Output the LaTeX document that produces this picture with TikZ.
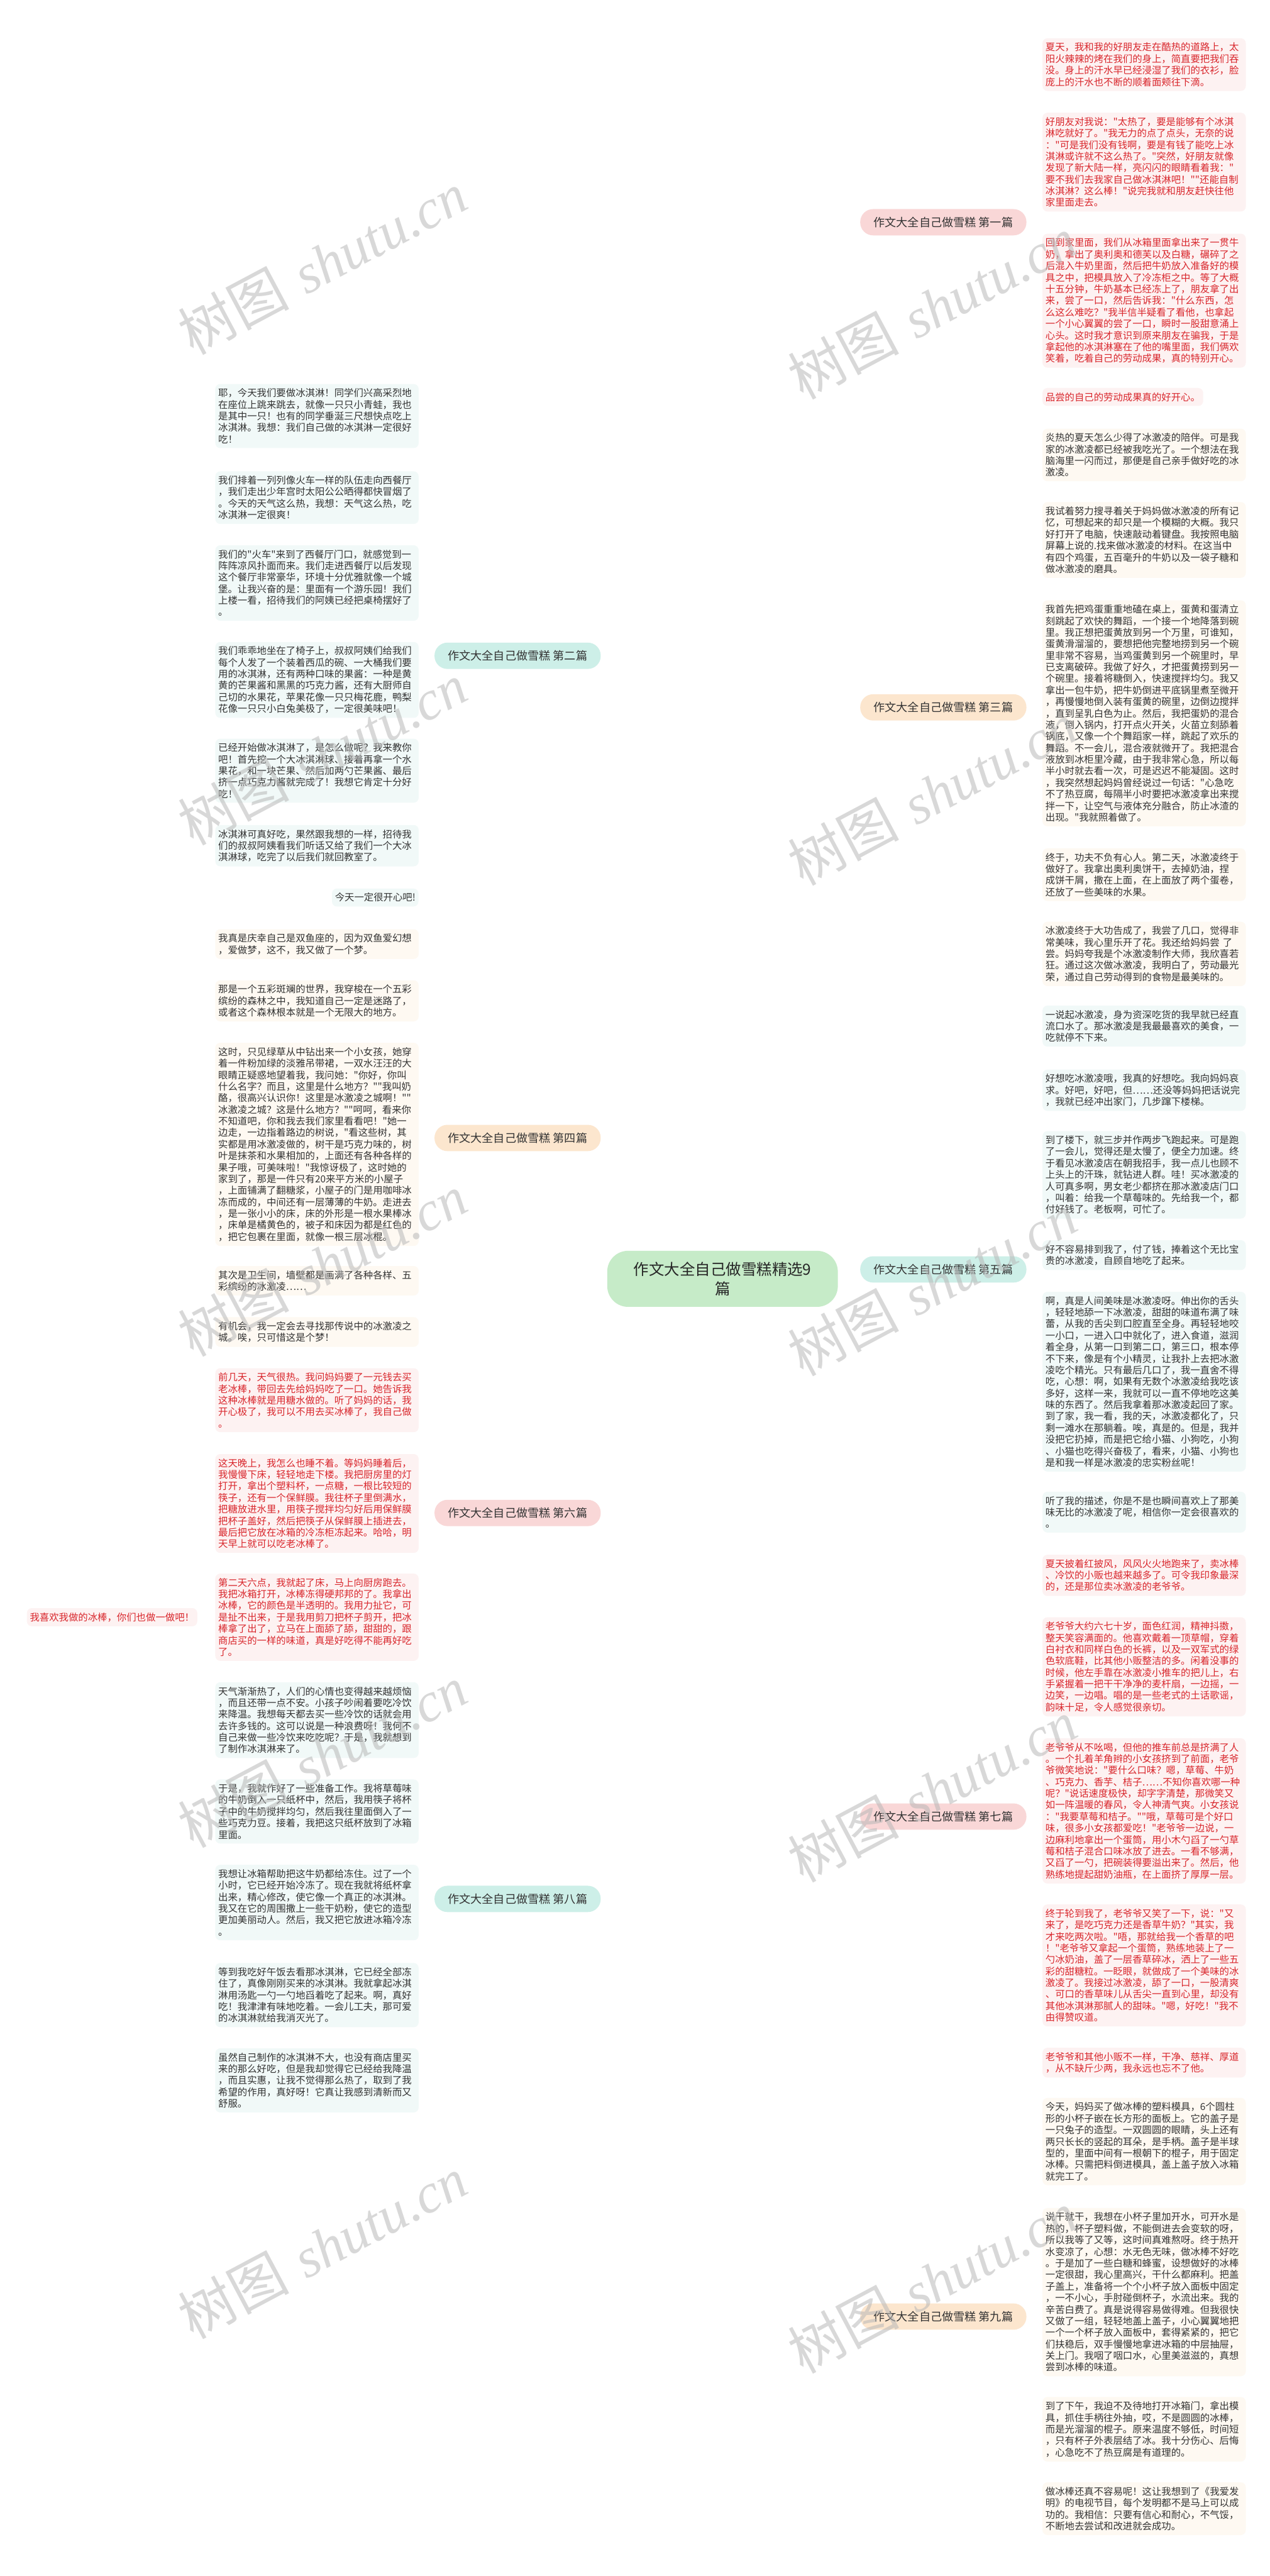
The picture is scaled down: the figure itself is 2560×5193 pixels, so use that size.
\documentclass[tikz,border=0pt]{standalone}
\usepackage{fontspec}
\usetikzlibrary{calc}
\newfontfamily\cjk{Noto Sans CJK SC}
\newfontfamily\wmlat{Liberation Serif}
\newcommand{\myleaffont}{\fontsize{19.5}{23.3}\selectfont\cjk}
\pgfdeclarelayer{bg}
\pgfsetlayers{bg,main}
\definecolor{redtxt}{HTML}{D9262C}
\definecolor{darktxt}{HTML}{333333}
\definecolor{pinkfill}{HTML}{FDF2F2}
\definecolor{creamfill}{HTML}{FEF9F2}
\definecolor{tealfill}{HTML}{F1F9F8}
\definecolor{pinkpill}{HTML}{F9D7D7}
\definecolor{orangepill}{HTML}{FCE6CE}
\definecolor{tealpill}{HTML}{CDEFE8}
\definecolor{centerfill}{HTML}{C6EBC8}
\definecolor{pinkline}{HTML}{F2C3C3}
\definecolor{orangeline}{HTML}{F8D8B4}
\definecolor{tealline}{HTML}{B2E4DA}
\definecolor{wmgray}{HTML}{B8B8B8}
\begin{document}
\begin{tikzpicture}[x=1pt,y=-1pt,
  leafbase/.style={rounded corners=10pt, inner xsep=6pt, inner ysep=9pt, align=left, font=\myleaffont, anchor=north west},
  leaf/.style={leafbase, text width=398pt},
  pinkc/.style={fill=pinkfill, text=redtxt},
  creamc/.style={fill=creamfill, text=darktxt},
  tealc/.style={fill=tealfill, text=darktxt},
  pill/.style={rounded corners=26pt, minimum height=53pt, inner xsep=27pt, inner ysep=0pt, font=\fontsize{23}{27}\selectfont\cjk, text=darktxt},
  hub/.style={rounded corners=42pt, minimum width=465pt, minimum height=113pt, fill=centerfill, align=center, font=\fontsize{31}{40}\selectfont\cjk, text=black!85},
  br/.style={line width=3.5pt},
  lf/.style={line width=3pt},
  wmark/.style={text=wmgray, opacity=0.55, rotate=28, font=\fontsize{112}{120}\selectfont}
]
\useasboundingbox (0,0) rectangle (2560,5193);
\fill[white] (0,0) rectangle (2560,5193);

% center
\node[hub] (c) at (1457,2578) {作文大全自己做雪糕精选9\\篇};

% branch pills
\node[pill, fill=pinkpill, anchor=east] (p1) at (2070,448) {作文大全自己做雪糕 第一篇};
\node[pill, fill=orangepill, anchor=east] (p3) at (2070,1426) {作文大全自己做雪糕 第三篇};
\node[pill, fill=tealpill, anchor=east] (p5) at (2070,2559) {作文大全自己做雪糕 第五篇};
\node[pill, fill=pinkpill, anchor=east] (p7) at (2070,3662) {作文大全自己做雪糕 第七篇};
\node[pill, fill=orangepill, anchor=east] (p9) at (2070,4670) {作文大全自己做雪糕 第九篇};
\node[pill, fill=tealpill, anchor=west] (p2) at (876,1322) {作文大全自己做雪糕 第二篇};
\node[pill, fill=orangepill, anchor=west] (p4) at (876,2294) {作文大全自己做雪糕 第四篇};
\node[pill, fill=pinkpill, anchor=west] (p6) at (876,3050) {作文大全自己做雪糕 第六篇};
\node[pill, fill=tealpill, anchor=west] (p8) at (876,3828) {作文大全自己做雪糕 第八篇};

% ---------- right: group 1 ----------
\node[leaf,pinkc] (b1) at (2102,77) {夏天，我和我的好朋友走在酷热的道路上，太\\阳火辣辣的烤在我们的身上，简直要把我们吞\\没。身上的汗水早已经浸湿了我们的衣衫，脸\\庞上的汗水也不断的顺着面颊往下滴。};
\node[leaf,pinkc] (b2) at (2102,227) {好朋友对我说："太热了，要是能够有个冰淇\\淋吃就好了。"我无力的点了点头，无奈的说\\："可是我们没有钱啊，要是有钱了能吃上冰\\淇淋或许就不这么热了。"突然，好朋友就像\\发现了新大陆一样，亮闪闪的眼睛看着我："\\要不我们去我家自己做冰淇淋吧！""还能自制\\冰淇淋？这么棒！"说完我就和朋友赶快往他\\家里面走去。};
\node[leaf,pinkc] (b3) at (2102,471) {回到家里面，我们从冰箱里面拿出来了一贯牛\\奶，拿出了奥利奥和德芙以及白糖，碾碎了之\\后混入牛奶里面，然后把牛奶放入准备好的模\\具之中，把模具放入了冷冻柜之中。等了大概\\十五分钟，牛奶基本已经冻上了，朋友拿了出\\来，尝了一口，然后告诉我："什么东西，怎\\么这么难吃？"我半信半疑看了看他，也拿起\\一个小心翼翼的尝了一口，瞬时一股甜意涌上\\心头。这时我才意识到原来朋友在骗我，于是\\拿起他的冰淇淋塞在了他的嘴里面，我们俩欢\\笑着，吃着自己的劳动成果，真的特别开心。};
\node[leafbase,pinkc] (b4) at (2102,782) {品尝的自己的劳动成果真的好开心。};

% ---------- right: group 3 ----------
\node[leaf,creamc] (b5) at (2102,864) {炎热的夏天怎么少得了冰激凌的陪伴。可是我\\家的冰激凌都已经被我吃光了。一个想法在我\\脑海里一闪而过，那便是自己亲手做好吃的冰\\激凌。};
\node[leaf,creamc] (b6) at (2102,1012) {我试着努力搜寻着关于妈妈做冰激凌的所有记\\忆，可想起来的却只是一个模糊的大概。我只\\好打开了电脑，快速敲动着键盘。我按照电脑\\屏幕上说的.找来做冰激凌的材料。在这当中\\有四个鸡蛋，五百毫升的牛奶以及一袋子糖和\\做冰激凌的磨具。};
\node[leaf,creamc] (b7) at (2102,1210) {我首先把鸡蛋重重地磕在桌上，蛋黄和蛋清立\\刻跳起了欢快的舞蹈，一个接一个地降落到碗\\里。我正想把蛋黄放到另一个万里，可谁知，\\蛋黄滑溜溜的，要想把他完整地捞到另一个碗\\里非常不容易，当鸡蛋黄到另一个碗里时，早\\已支离破碎。我做了好久，才把蛋黄捞到另一\\个碗里。接着将糖倒入，快速搅拌均匀。我又\\拿出一包牛奶，把牛奶倒进平底锅里煮至微开\\，再慢慢地倒入装有蛋黄的碗里，边倒边搅拌\\，直到呈乳白色为止。然后，我把蛋奶的混合\\液，倒入锅内，打开点火开关，火苗立刻舔着\\锅底，又像一个个舞蹈家一样，跳起了欢乐的\\舞蹈。不一会儿，混合液就微开了。我把混合\\液放到冰柜里冷藏，由于我非常心急，所以每\\半小时就去看一次，可是迟迟不能凝固。这时\\，我突然想起妈妈曾经说过一句话："心急吃\\不了热豆腐，每隔半小时要把冰激凌拿出来搅\\拌一下，让空气与液体充分融合，防止冰渣的\\出现。"我就照着做了。};
\node[leaf,creamc] (b8) at (2102,1710) {终于，功夫不负有心人。第二天，冰激凌终于\\做好了。我拿出奥利奥饼干，去掉奶油，捏\\成饼干屑，撒在上面，在上面放了两个蛋卷，\\还放了一些美味的水果。};
\node[leaf,creamc] (b9) at (2102,1858) {冰激凌终于大功告成了，我尝了几口，觉得非\\常美味，我心里乐开了花。我还给妈妈尝 了\\尝。妈妈夸我是个冰激凌制作大师，我欣喜若\\狂。通过这次做冰激凌，我明白了，劳动最光\\荣，通过自己劳动得到的食物是最美味的。};

% ---------- right: group 5 ----------
\node[leaf,tealc] (b10) at (2102,2027) {一说起冰激凌，身为资深吃货的我早就已经直\\流口水了。那冰激凌是我最最喜欢的美食，一\\吃就停不下来。};
\node[leaf,tealc] (b11) at (2102,2156) {好想吃冰激凌哦，我真的好想吃。我向妈妈哀\\求。好吧，好吧，但……还没等妈妈把话说完\\，我就已经冲出家门，几步蹿下楼梯。};
\node[leaf,tealc] (b12) at (2102,2280) {到了楼下，就三步并作两步飞跑起来。可是跑\\了一会儿，觉得还是太慢了，便全力加速。终\\于看见冰激凌店在朝我招手，我一点儿也顾不\\上头上的汗珠，就钻进人群。哇！买冰激凌的\\人可真多啊，男女老少都挤在那冰激凌店门口\\，叫着：给我一个草莓味的。先给我一个，都\\付好钱了。老板啊，可忙了。};
\node[leaf,tealc] (b13) at (2102,2500) {好不容易排到我了，付了钱，捧着这个无比宝\\贵的冰激凌，自顾自地吃了起来。};
\node[leaf,tealc] (b14) at (2102,2604) {啊，真是人间美味是冰激凌呀。伸出你的舌头\\，轻轻地舔一下冰激凌，甜甜的味道布满了味\\蕾，从我的舌尖到口腔直至全身。再轻轻地咬\\一小口，一进入口中就化了，进入食道，滋润\\着全身，从第一口到第二口，第三口，根本停\\不下来，像是有个小精灵，让我扑上去把冰激\\凌吃个精光。只有最后几口了，我一直舍不得\\吃，心想：啊，如果有无数个冰激凌给我吃该\\多好，这样一来，我就可以一直不停地吃这美\\味的东西了。然后我拿着那冰激凌起回了家。\\到了家，我一看，我的天，冰激凌都化了，只\\剩一滩水在那躺着。唉，真是的。但是，我并\\没把它扔掉，而是把它给小猫、小狗吃，小狗\\、小猫也吃得兴奋极了，看来，小猫、小狗也\\是和我一样是冰激凌的忠实粉丝呢！};
\node[leaf,tealc] (b15) at (2102,3007) {听了我的描述，你是不是也瞬间喜欢上了那美\\味无比的冰激凌了呢，相信你一定会很喜欢的\\。};

% ---------- right: group 7 ----------
\node[leaf,pinkc] (b16) at (2102,3134) {夏天披着红披风，风风火火地跑来了，卖冰棒\\、冷饮的小贩也越来越多了。可令我印象最深\\的，还是那位卖冰激凌的老爷爷。};
\node[leaf,pinkc] (b17) at (2102,3260) {老爷爷大约六七十岁，面色红润，精神抖擞，\\整天笑容满面的。他喜欢戴着一顶草帽，穿着\\白衬衣和同样白色的长裤，以及一双军式的绿\\色软底鞋，比其他小贩整洁的多。闲着没事的\\时候，他左手靠在冰激凌小推车的把儿上，右\\手紧握着一把干干净净的麦杆扇，一边摇，一\\边笑，一边唱。唱的是一些老式的土话歌谣，\\韵味十足，令人感觉很亲切。};
\node[leaf,pinkc] (b18) at (2102,3504) {老爷爷从不吆喝，但他的推车前总是挤满了人\\。一个扎着羊角辫的小女孩挤到了前面，老爷\\爷微笑地说："要什么口味？嗯，草莓、牛奶\\、巧克力、香芋、桔子……不知你喜欢哪一种\\呢？"说话速度极快，却字字清楚，那微笑又\\如一阵温暖的春风，令人神清气爽。小女孩说\\："我要草莓和桔子。""哦，草莓可是个好口\\味，很多小女孩都爱吃！"老爷爷一边说，一\\边麻利地拿出一个蛋筒，用小木勺舀了一勺草\\莓和桔子混合口味冰放了进去。一看不够满，\\又舀了一勺，把碗装得要溢出来了。然后，他\\熟练地提起甜奶油瓶，在上面挤了厚厚一层。};
\node[leaf,pinkc] (b19) at (2102,3839) {终于轮到我了，老爷爷又笑了一下，说："又\\来了，是吃巧克力还是香草牛奶？"其实，我\\才来吃两次啦。"唔，那就给我一个香草的吧\\！"老爷爷又拿起一个蛋筒，熟练地装上了一\\勺冰奶油，盖了一层香草碎冰，洒上了一些五\\彩的甜糖粒。一眨眼，就做成了一个美味的冰\\激凌了。我接过冰激凌，舔了一口，一股清爽\\、可口的香草味儿从舌尖一直到心里，却没有\\其他冰淇淋那腻人的甜味。"嗯，好吃！"我不\\由得赞叹道。};
\node[leaf,pinkc] (b20) at (2102,4128) {老爷爷和其他小贩不一样，干净、慈祥、厚道\\，从不缺斤少两，我永远也忘不了他。};

% ---------- right: group 9 ----------
\node[leaf,creamc] (b21) at (2102,4229) {今天，妈妈买了做冰棒的塑料模具，6个圆柱\\形的小杯子嵌在长方形的面板上。它的盖子是\\一只兔子的造型。一双圆圆的眼睛，头上还有\\两只长长的竖起的耳朵，是手柄。盖子是半球\\型的，里面中间有一根朝下的棍子，用于固定\\冰棒。只需把料倒进模具，盖上盖子放入冰箱\\就完工了。};
\node[leaf,creamc] (b22) at (2102,4451) {说干就干，我想在小杯子里加开水，可开水是\\热的，杯子塑料做，不能倒进去会变软的呀，\\所以我等了又等，这时间真难熬呀。终于热开\\水变凉了，心想：水无色无味，做冰棒不好吃\\。于是加了一些白糖和蜂蜜，设想做好的冰棒\\一定很甜，我心里高兴，干什么都麻利。把盖\\子盖上，准备将一个个小杯子放入面板中固定\\，一不小心，手肘碰倒杯子，水流出来。我的\\辛苦白费了。真是说得容易做得难。但我很快\\又做了一组，轻轻地盖上盖子，小心翼翼地把\\一个一个杯子放入面板中，套得紧紧的，把它\\们扶稳后，双手慢慢地拿进冰箱的中层抽屉，\\关上门。我咽了咽口水，心里美滋滋的，真想\\尝到冰棒的味道。};
\node[leaf,creamc] (b23) at (2102,4832) {到了下午，我迫不及待地打开冰箱门，拿出模\\具，抓住手柄往外抽，哎，不是圆圆的冰棒，\\而是光溜溜的棍子。原来温度不够低，时间短\\，只有杯子外表层结了冰。我十分伤心、后悔\\，心急吃不了热豆腐是有道理的。};
\node[leaf,creamc] (b24) at (2102,5004) {做冰棒还真不容易呢！这让我想到了《我爱发\\明》的电视节目，每个发明都不是马上可以成\\功的。我相信：只要有信心和耐心，不气馁，\\不断地去尝试和改进就会成功。};

% ---------- left: group 2 ----------
\node[leaf,tealc] (L1) at (434,774) {耶，今天我们要做冰淇淋！同学们兴高采烈地\\在座位上跳来跳去，就像一只只小青蛙，我也\\是其中一只！也有的同学垂涎三尺想快点吃上\\冰淇淋。我想：我们自己做的冰淇淋一定很好\\吃！};
\node[leaf,tealc] (L2) at (434,950) {我们排着一列列像火车一样的队伍走向西餐厅\\，我们走出少年宫时太阳公公晒得都快冒烟了\\。今天的天气这么热，我想：天气这么热，吃\\冰淇淋一定很爽！};
\node[leaf,tealc] (L3) at (434,1099) {我们的"火车"来到了西餐厅门口，就感觉到一\\阵阵凉风扑面而来。我们走进西餐厅以后发现\\这个餐厅非常豪华，环境十分优雅就像一个城\\堡。让我兴奋的是：里面有一个游乐园！我们\\上楼一看，招待我们的阿姨已经把桌椅摆好了\\。};
\node[leaf,tealc] (L4) at (434,1294) {我们乖乖地坐在了椅子上，叔叔阿姨们给我们\\每个人发了一个装着西瓜的碗、一大桶我们要\\用的冰淇淋，还有两种口味的果酱：一种是黄\\黄的芒果酱和黑黑的巧克力酱，还有大厨师自\\己切的水果花，苹果花像一只只梅花鹿，鸭梨\\花像一只只小白兔美极了，一定很美味吧！};
\node[leaf,tealc] (L5) at (434,1489) {已经开始做冰淇淋了，是怎么做呢？我来教你\\吧！首先挖一个大冰淇淋球、接着再拿一个水\\果花，和一块芒果、然后加两勺芒果酱、最后\\挤一点巧克力酱就完成了！我想它肯定十分好\\吃！};
\node[leaf,tealc] (L6) at (434,1663) {冰淇淋可真好吃，果然跟我想的一样，招待我\\们的叔叔阿姨看我们听话又给了我们一个大冰\\淇淋球，吃完了以后我们就回教室了。};
\node[leafbase,tealc,anchor=north east] (L7) at (844,1791) {今天一定很开心吧!};

% ---------- left: group 4 ----------
\node[leaf,creamc] (L8) at (434,1873) {我真是庆幸自己是双鱼座的，因为双鱼爱幻想\\，爱做梦，这不，我又做了一个梦。};
\node[leaf,creamc] (L9) at (434,1976) {那是一个五彩斑斓的世界，我穿梭在一个五彩\\缤纷的森林之中，我知道自己一定是迷路了，\\或者这个森林根本就是一个无限大的地方。};
\node[leaf,creamc] (L10) at (434,2102) {这时，只见绿草从中钻出来一个小女孩，她穿\\着一件粉加绿的淡雅吊带裙，一双水汪汪的大\\眼睛正疑惑地望着我，我问她："你好，你叫\\什么名字？而且，这里是什么地方？""我叫奶\\酪，很高兴认识你！这里是冰激凌之城啊！""\\冰激凌之城？这是什么地方？""呵呵，看来你\\不知道吧，你和我去我们家里看看吧！"她一\\边走，一边指着路边的树说，"看这些树，其\\实都是用冰激凌做的，树干是巧克力味的，树\\叶是抹茶和水果相加的，上面还有各种各样的\\果子哦，可美味啦！"我惊讶极了，这时她的\\家到了，那是一件只有20来平方米的小屋子\\，上面铺满了翻糖浆，小屋子的门是用咖啡冰\\冻而成的，中间还有一层薄薄的牛奶。走进去\\，是一张小小的床，床的外形是一根水果棒冰\\，床单是橘黄色的，被子和床因为都是红色的\\，把它包裹在里面，就像一根三层冰棍。};
\node[leaf,creamc] (L11) at (434,2552) {其次是卫生间，墙壁都是画满了各种各样、五\\彩缤纷的冰激凌……};
\node[leaf,creamc] (L12) at (434,2655) {有机会，我一定会去寻找那传说中的冰激凌之\\城。唉，只可惜这是个梦！};

% ---------- left: group 6 ----------
\node[leaf,pinkc] (L13) at (434,2758) {前几天，天气很热。我问妈妈要了一元钱去买\\老冰棒，带回去先给妈妈吃了一口。她告诉我\\这种冰棒就是用糖水做的。听了妈妈的话，我\\开心极了，我可以不用去买冰棒了，我自己做\\。};
\node[leaf,pinkc] (L14) at (434,2931) {这天晚上，我怎么也睡不着。等妈妈睡着后，\\我慢慢下床，轻轻地走下楼。我把厨房里的灯\\打开，拿出个塑料杯，一点糖，一根比较短的\\筷子，还有一个保鲜膜。我往杯子里倒满水，\\把糖放进水里，用筷子搅拌均匀好后用保鲜膜\\把杯子盖好，然后把筷子从保鲜膜上插进去，\\最后把它放在冰箱的冷冻柜冻起来。哈哈，明\\天早上就可以吃老冰棒了。};
\node[leaf,pinkc] (L15) at (434,3172) {第二天六点，我就起了床，马上向厨房跑去。\\我把冰箱打开，冰棒冻得硬邦邦的了。我拿出\\冰棒，它的颜色是半透明的。我用力扯它，可\\是扯不出来，于是我用剪刀把杯子剪开，把冰\\棒拿了出了，立马在上面舔了舔，甜甜的，跟\\商店买的一样的味道，真是好吃得不能再好吃\\了。};
\node[leafbase,pinkc,anchor=east] (L15a) at ($(L15.west)+(-36,0)$) {我喜欢我做的冰棒，你们也做一做吧！};

% ---------- left: group 8 ----------
\node[leaf,tealc] (L16) at (434,3391) {天气渐渐热了，人们的心情也变得越来越烦恼\\，而且还带一点不安。小孩子吵闹着要吃冷饮\\来降温。我想每天都去买一些冷饮的话就会用\\去许多钱的。这可以说是一种浪费呀！我何不\\自己来做一些冷饮来吃吃呢？于是，我就想到\\了制作冰淇淋来了。};
\node[leaf,tealc] (L17) at (434,3587) {于是，我就作好了一些准备工作。我将草莓味\\的牛奶倒入一只纸杯中，然后，我用筷子将杯\\子中的牛奶搅拌均匀，然后我往里面倒入了一\\些巧克力豆。接着，我把这只纸杯放到了冰箱\\里面。};
\node[leaf,tealc] (L18) at (434,3759) {我想让冰箱帮助把这牛奶都给冻住。过了一个\\小时，它已经开始冷冻了。现在我就将纸杯拿\\出来，精心修改，使它像一个真正的冰淇淋。\\我又在它的周围撒上一些干奶粉，使它的造型\\更加美丽动人。然后，我又把它放进冰箱冷冻\\。};
\node[leaf,tealc] (L19) at (434,3957) {等到我吃好午饭去看那冰淇淋，它已经全部冻\\住了，真像刚刚买来的冰淇淋。我就拿起冰淇\\淋用汤匙一勺一勺地舀着吃了起来。啊，真好\\吃！我津津有味地吃着。一会儿工夫，那可爱\\的冰淇淋就给我消灭光了。};
\node[leaf,tealc] (L20) at (434,4129) {虽然自己制作的冰淇淋不大，也没有商店里买\\来的那么好吃，但是我却觉得它已经给我降温\\，而且实惠，让我不觉得那么热了，取到了我\\希望的作用，真好呀！它真让我感到清新而又\\舒服。};

% ---------- connectors ----------
\begin{pgfonlayer}{bg}
\foreach \p/\col in {p1/pinkline,p3/orangeline,p5/tealline,p7/pinkline,p9/orangeline}
  \draw[br,\col] (c.center) .. controls (c.center |- \p.west) and ($(c.center |- \p.west)!0.5!(\p.west)$) .. (\p.west);
\foreach \p/\col in {p2/tealline,p4/orangeline,p6/pinkline,p8/tealline}
  \draw[br,\col] (c.center) .. controls (c.center |- \p.east) and ($(c.center |- \p.east)!0.5!(\p.east)$) .. (\p.east);
\foreach \p/\b/\col in {p1/b1/pinkline,p1/b2/pinkline,p1/b3/pinkline,p1/b4/pinkline,
  p3/b5/orangeline,p3/b6/orangeline,p3/b7/orangeline,p3/b8/orangeline,p3/b9/orangeline,
  p5/b10/tealline,p5/b11/tealline,p5/b12/tealline,p5/b13/tealline,p5/b14/tealline,p5/b15/tealline,
  p7/b16/pinkline,p7/b17/pinkline,p7/b18/pinkline,p7/b19/pinkline,p7/b20/pinkline,
  p9/b21/orangeline,p9/b22/orangeline,p9/b23/orangeline,p9/b24/orangeline}
  \draw[lf,\col] (\p.east) .. controls +(16,0) and +(-16,0) .. (\b.west);
\foreach \p/\b/\col in {p2/L1/tealline,p2/L2/tealline,p2/L3/tealline,p2/L4/tealline,p2/L5/tealline,p2/L6/tealline,p2/L7/tealline,
  p4/L8/orangeline,p4/L9/orangeline,p4/L10/orangeline,p4/L11/orangeline,p4/L12/orangeline,
  p6/L13/pinkline,p6/L14/pinkline,p6/L15/pinkline,
  p8/L16/tealline,p8/L17/tealline,p8/L18/tealline,p8/L19/tealline,p8/L20/tealline}
  \draw[lf,\col] (\p.west) .. controls +(-16,0) and +(16,0) .. (\b.east);
\draw[lf,pinkline] (L15.west) -- (L15a.east);
\end{pgfonlayer}

% ---------- watermarks ----------
\foreach \i/\wx/\wy in {1/650/530,2/650/1520,3/650/2550,4/650/3540,5/650/4530,
  6/1880/620,7/1880/1600,8/1880/2590,9/1880/3610,10/1880/4600}
  \node[wmark] (wm\i) at (\wx,\wy) {{\cjk 树图} {\wmlat\itshape shutu.cn}};
\end{tikzpicture}
\end{document}
